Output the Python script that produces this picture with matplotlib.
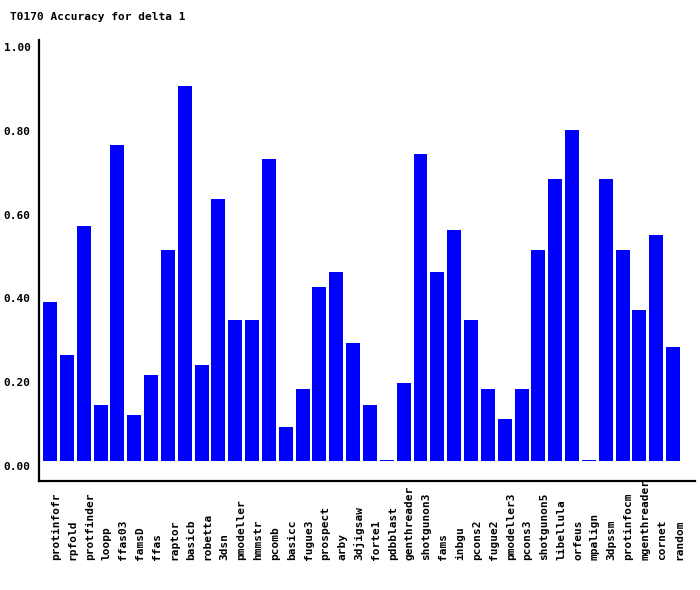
import numpy as np
import matplotlib
matplotlib.use("Agg")
from matplotlib import pyplot as plt
from matplotlib import transforms

methods = ["protinfofr", "rpfold", "protfinder", "loopp", "ffas03", "famsD",
           "ffas", "raptor", "basicb", "robetta", "3dsn", "pmodeller",
           "hmmstr", "pcomb", "basicc", "fugue3", "prospect", "arby",
           "3djigsaw", "forte1", "pdbblast", "genthreader", "shotgunon3",
           "fams", "inbgu", "pcons2", "fugue2", "pmodeller3", "pcons3",
           "shotgunon5", "libellula", "orfeus", "mpalign", "3dpssm",
           "protinfocm", "mgenthreader", "cornet", "random"]
accuracy = [0.379, 0.253, 0.561, 0.134, 0.754, 0.110,
            0.205, 0.504, 0.895, 0.229, 0.625, 0.337,
            0.337, 0.721, 0.081, 0.172, 0.415, 0.451,
            0.282, 0.134, 0.003, 0.186, 0.733,
            0.451, 0.551, 0.337, 0.172, 0.100, 0.172,
            0.504, 0.673, 0.790, 0.003, 0.673,
            0.504, 0.360, 0.539, 0.272]
yticks = [0.0, 0.2, 0.4, 0.6, 0.8, 1.0]

W, H = 700, 590
fig = plt.figure(figsize=(W / 100, H / 100), dpi=100)
# axes box in pixels: left 39, right 695, top 40, bottom 481
ax = fig.add_axes([39 / W, 1 - 481 / H, (695 - 39) / W, (481 - 40) / H])

mono = dict(family="DejaVu Sans Mono", weight="bold", size=8)

x = np.arange(len(methods))
ax.bar(x, accuracy, width=0.83, color="#0000ff")
ax.set_xlim(-0.653, 38.3)
ax.set_ylim(-0.0477, 1.0048)

for s in ["top", "right"]:
    ax.spines[s].set_visible(False)
for s in ["left", "bottom"]:
    ax.spines[s].set_linewidth(1.6)

ax.set_xticks([])
ax.set_yticks(yticks)
ax.set_yticklabels(["%.2f" % v for v in yticks], **mono)
ax.tick_params(axis="y", length=0, pad=6)
shift = transforms.ScaledTranslation(0, -5 / 100, fig.dpi_scale_trans)
for lbl in ax.get_yticklabels():
    lbl.set_transform(lbl.get_transform() + shift)

# method names, rotated, all starting at the same baseline
trans = transforms.blended_transform_factory(ax.transData, fig.transFigure)
xshift = transforms.ScaledTranslation(6 / 100, 0, fig.dpi_scale_trans)
for i, name in enumerate(methods):
    ax.text(i, 1 - 560 / H, name, rotation=90, ha="center", va="bottom",
            transform=trans + xshift, clip_on=False, **mono)

fig.text(10 / W, 1 - 17 / H, "T0170 Accuracy for delta 1", ha="left",
         va="center", **mono)

fig.savefig("out.png", dpi=100)
